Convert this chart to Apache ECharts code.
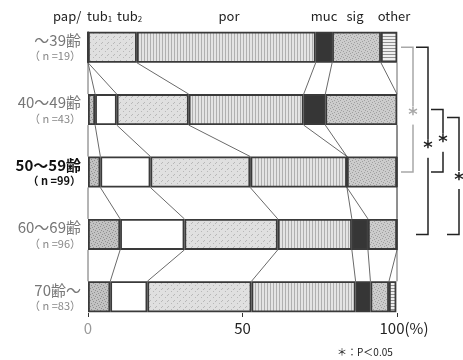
<!DOCTYPE html>
<html><head><meta charset="utf-8">
<script src="https://cdn.jsdelivr.net/npm/echarts@6/dist/echarts.min.js"></script>
<style>html,body{margin:0;padding:0;background:#fff}#c{width:463px;height:360px}</style>
</head><body><div id="c"></div>
<script>
const categories = ['～39齢','40～49齢','50～59齢','60～69齢','70齢～'];
const nLabels = ['19','43','99','96','83'];
const seriesNames = ['pap','tub1','tub2','por','muc','sig','other'];
const pap   = [0,    2.3,  4.0, 10.4,  7.2];
const tub1  = [0,    7.0, 16.2, 20.8, 12.0];
const tub2  = [15.8, 23.3, 32.3, 30.2, 33.7];
const por   = [57.9, 37.2, 31.3, 24.0, 33.7];
const muc   = [5.3,  7.0,  0,    5.2,  4.8];
const sig   = [15.8, 23.3, 16.2,  9.4,  6.0];
const other = [5.3,  0,    0,     0,    2.4];
const xTicks = [0, 50, 100];
// significance brackets: [fromCategoryIndex, toCategoryIndex]
const brackets = [[0,2],[0,3],[1,2],[1,3]];
const sigNote = '＊：P＜0.05';

const FONT = '"Noto Sans CJK JP", "Noto Sans", sans-serif';
const allSeries = [pap,tub1,tub2,por,muc,sig,other];

function pattern(bg, fg, kind){
  const c = document.createElement('canvas');
  c.width = 6; c.height = 6;
  const g = c.getContext('2d');
  g.fillStyle = bg; g.fillRect(0,0,6,6);
  g.fillStyle = fg;
  if (kind === 'dots') { [[0,0],[3,1],[1,3],[4,4],[2,5],[5,2]].forEach(p=>g.fillRect(p[0],p[1],1,1)); }
  if (kind === 'sparse') { [[0,0],[3,3],[5,1]].forEach(p=>g.fillRect(p[0],p[1],1,1)); }
  if (kind === 'v') { g.fillRect(0,0,1,6); g.fillRect(3,0,1,6); }
  if (kind === 'h') { g.fillRect(0,0,6,1); g.fillRect(0,3,6,1); }
  return {image: c, repeat: 'repeat'};
}
const fills = [
  pattern('#c2c2c2','#909090','dots'),
  '#ffffff',
  pattern('#e0e0e0','#b8b8b8','sparse'),
  pattern('#e4e4e4','#b0b0b0','v'),
  '#363636',
  pattern('#cccccc','#a0a0a0','dots'),
  pattern('#eeeeee','#909090','h')
];

const BAR = 31;
const chart = echarts.init(document.getElementById('c'), null, {renderer:'canvas'});

function cums(i){
  const out=[0]; let s=0;
  allSeries.forEach(a=>{ s+=a[i]; out.push(Math.min(s,100)); });
  out[out.length-1]=100;
  return out;
}

const barSeries = seriesNames.map((nm,k)=>({
  name: nm, type:'bar', stack:'t', barWidth: BAR,
  data: allSeries[k],
  itemStyle: {color: fills[k], borderColor:'#3a3a3a', borderWidth:1.8},
  silent: true, z: 3
}));

const connector = {
  type:'custom', coordinateSystem:'cartesian2d', silent:true, z:2,
  data: categories.slice(0,-1).map((c,i)=>[0,i]),
  encode:{x:0,y:1},
  renderItem: function(params, api){
    const i = params.dataIndex;
    const a = cums(i), b = cums(i+1);
    const y0 = api.coord([0,i])[1] + BAR/2;
    const y1 = api.coord([0,i+1])[1] - BAR/2;
    const children = a.map((v,k)=>({
      type:'line',
      shape:{x1: api.coord([v,i])[0], y1:y0, x2: api.coord([b[k],i+1])[0], y2:y1},
      style:{stroke:'#6a6a6a', lineWidth:1}
    }));
    return {type:'group', children};
  }
};

chart.setOption({
  animation:false,
  textStyle:{fontFamily:FONT},
  grid:{left:88, right:66, top:16, bottom:32},
  xAxis:{
    type:'value', min:0, max:100, interval:50, offset:-15,
    axisLine:{show:false}, splitLine:{show:false},
    axisTick:{show:true, length:4, lineStyle:{color:'#333'}},
    axisLabel:{
      margin:8, alignMinLabel:'center', alignMaxLabel:'center',
      formatter: v => v===0 ? '{g|0}' : (v===100 ? '{e|100(%)}' : '{k|'+v+'}'),
      rich:{
        g:{color:'#999', fontSize:15, fontFamily:FONT},
        k:{color:'#222', fontSize:15, fontFamily:FONT},
        e:{color:'#222', fontSize:15, fontFamily:FONT, padding:[0,0,0,14]}
      }
    }
  },
  yAxis:{
    type:'category', inverse:true, data:categories,
    axisLine:{show:false}, axisTick:{show:false},
    axisLabel:{
      margin:7,
      formatter:(v,idx)=>{
        const bold = idx===2;
        return bold ? `{A|${v}}\n{N|（ n =${nLabels[idx]}）}` : `{a|${v}}\n{n|（ n =${nLabels[idx]}）}`;
      },
      rich:{
        a:{fontSize:15, color:'#777', lineHeight:18, align:'right', fontFamily:FONT},
        n:{fontSize:11, color:'#888', lineHeight:14, align:'right', fontFamily:FONT},
        A:{fontSize:15, color:'#111', fontWeight:'bold', lineHeight:18, align:'right', fontFamily:FONT},
        N:{fontSize:11, color:'#111', fontWeight:'bold', lineHeight:14, align:'right', fontFamily:FONT}
      }
    }
  },
  series:[connector, ...barSeries]
});

// header labels & annotations
const g = [];
const hdr = (txt, x, align) => g.push({type:'text', x, y:16, style:{
  text:txt, x:0, y:0, align, verticalAlign:'middle', fill:'#222', font:'13px '+FONT,
  rich:{s:{fontSize:8, verticalAlign:'bottom', padding:[6,0,0,0], fill:'#222', fontFamily:FONT}}
}, silent:true});
hdr('pap/', 53, 'left');
hdr('tub{s|1}', 87, 'left');
hdr('tub{s|2}', 117, 'left');
hdr('por', 229, 'center');
hdr('muc', 324, 'center');
hdr('sig', 355, 'center');
hdr('other', 394, 'center');

const yc = i => chart.convertToPixel({yAxisIndex:0}, i);
const bx = [413, 428, 443, 459];
const bcol = ['#a8a8a8','#222','#222','#222'];
const topOff = [0, 0, 0, 8];
const starOff = [6, 8, 2, 4];
brackets.forEach((br,k)=>{
  const ya = yc(br[0]) + topOff[k], yb = yc(br[1]);
  const x = bx[k], x0 = x - 12;
  g.push({type:'polyline', silent:true, shape:{points:[[x0,ya],[x,ya],[x,yb],[x0,yb]]},
    style:{stroke:bcol[k], lineWidth:1.5, fill:null}});
  g.push({type:'text', silent:true, x, y:(ya+yb)/2 + starOff[k], style:{
    text:'*', align:'center', verticalAlign:'middle', fill:bcol[k],
    font:'bold 18px DejaVu Sans', backgroundColor:'#fff', padding:[0,1,0,1]}});
});
g.push({type:'text', silent:true, x:337, y:352, style:{text:sigNote, align:'left', verticalAlign:'middle', fill:'#222', font:'10px '+FONT}});
chart.setOption({graphic:g});
</script></body></html>
